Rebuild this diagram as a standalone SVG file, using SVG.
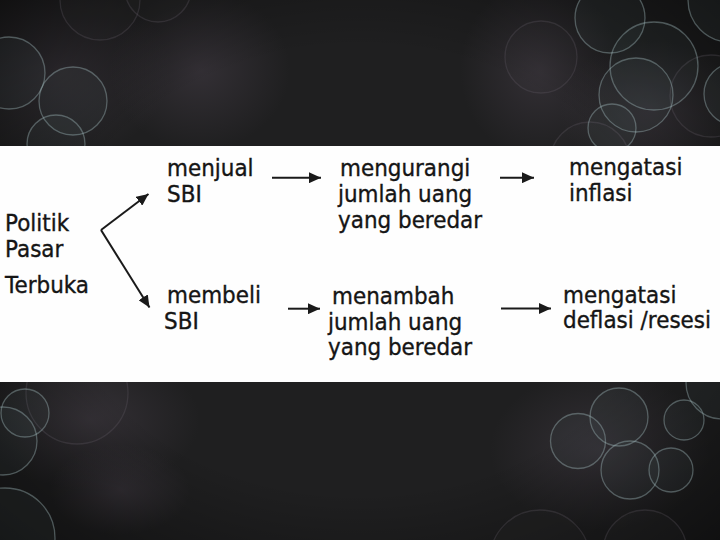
<svg xmlns="http://www.w3.org/2000/svg" width="720" height="540" viewBox="0 0 720 540">
  <defs>
    <style>
      .t { font-family: "DejaVu Sans", Verdana, sans-serif; font-size: 21.5px; fill: #151515; stroke: #151515; stroke-width: 0.35; }
      .c { stroke: #1a1a1a; stroke-width: 2; fill: none; }
      .b { fill: #8fb0b4; fill-opacity: 0.05; stroke: #a9c3c6; stroke-opacity: 0.38; stroke-width: 1.3; }
      .bf { fill: #6b6470; fill-opacity: 0.04; stroke: #6e6672; stroke-opacity: 0.25; stroke-width: 1.3; }
    </style>
    <marker id="ah" markerWidth="13" markerHeight="11" refX="12" refY="5.5" orient="auto" markerUnits="userSpaceOnUse">
      <path d="M0,0 L12,5.5 L0,11 Z" fill="#1a1a1a"/>
    </marker>
    <radialGradient id="blob" cx="0.5" cy="0.5" r="0.5">
      <stop offset="0" stop-color="#3a353c" stop-opacity="0.75"/>
      <stop offset="1" stop-color="#3a353c" stop-opacity="0"/>
    </radialGradient>
    <radialGradient id="vig" cx="0.5" cy="0.5" r="0.75">
      <stop offset="0.55" stop-color="#000" stop-opacity="0"/>
      <stop offset="1" stop-color="#000" stop-opacity="0.55"/>
    </radialGradient>
  </defs>

  <!-- background -->
  <g id="background">
    <rect x="0" y="0" width="720" height="540" fill="#1f1f20"/>
    <ellipse cx="60" cy="70" rx="110" ry="90" fill="url(#blob)"/>
    <ellipse cx="200" cy="70" rx="90" ry="80" fill="url(#blob)"/>
    <ellipse cx="540" cy="70" rx="80" ry="90" fill="url(#blob)"/>
    <ellipse cx="650" cy="110" rx="90" ry="70" fill="url(#blob)"/>
    <ellipse cx="90" cy="420" rx="110" ry="70" fill="url(#blob)"/>
    <ellipse cx="120" cy="490" rx="70" ry="45" fill="url(#blob)"/>
    <ellipse cx="600" cy="450" rx="110" ry="80" fill="url(#blob)"/>
    <rect x="0" y="0" width="720" height="540" fill="url(#vig)"/>

    <!-- faint bokeh -->
    <circle class="bf" cx="100" cy="0" r="40"/>
    <circle class="bf" cx="158" cy="-11" r="33"/>
    <circle class="bf" cx="541" cy="57" r="36"/>
    <circle class="bf" cx="711" cy="96" r="41"/>
    <circle class="bf" cx="590" cy="162" r="40"/>
    <circle class="bf" cx="77" cy="393" r="51"/>
    <circle class="bf" cx="540" cy="560" r="50"/>
    <circle class="bf" cx="645" cy="552" r="42"/>

    <!-- bright bokeh top -->
    <circle class="b" cx="9" cy="73" r="36"/>
    <circle class="b" cx="73" cy="101" r="34"/>
    <circle class="b" cx="56" cy="144" r="29"/>
    <circle class="b" cx="610" cy="18" r="35"/>
    <circle class="b" cx="654" cy="66" r="44"/>
    <circle class="b" cx="636" cy="95" r="37"/>
    <circle class="b" cx="612" cy="128" r="24"/>
    <circle class="b" cx="730" cy="0" r="42"/>
    <circle class="b" cx="735" cy="94" r="31"/>

    <!-- bright bokeh bottom -->
    <circle class="b" cx="25" cy="413" r="24"/>
    <circle class="b" cx="3" cy="441" r="34"/>
    <circle class="b" cx="5" cy="538" r="50"/>
    <circle class="b" cx="619" cy="417" r="29"/>
    <circle class="b" cx="578" cy="441" r="27.5"/>
    <circle class="b" cx="630" cy="470" r="29"/>
    <circle class="b" cx="671" cy="470" r="22"/>
    <circle class="b" cx="684" cy="420" r="20"/>
    <circle class="b" cx="722" cy="383" r="36"/>

    <!-- white band -->
    <rect x="0" y="146" width="720" height="236" fill="#fefefe"/>
  </g>

  <!-- connectors -->
  <g id="connectors">
    <line class="c" x1="101" y1="230" x2="148.5" y2="194" marker-end="url(#ah)"/>
    <line class="c" x1="101" y1="230" x2="149.5" y2="307.5" marker-end="url(#ah)"/>
    <line class="c" x1="272" y1="177.7" x2="321" y2="177.7" marker-end="url(#ah)"/>
    <line class="c" x1="500" y1="177.7" x2="534" y2="177.7" marker-end="url(#ah)"/>
    <line class="c" x1="288" y1="308.7" x2="320" y2="308.7" marker-end="url(#ah)"/>
    <line class="c" x1="501" y1="308.5" x2="551" y2="308.5" marker-end="url(#ah)"/>
  </g>

  <!-- nodes (text stretched vertically as in the reference) -->
  <g id="n-politik" transform="scale(1,1.1)">
    <text class="t" x="5" y="210">Politik</text>
    <text class="t" x="5" y="233.64">Pasar</text>
    <text class="t" x="5" y="266.36">Terbuka</text>
  </g>
  <g id="n-menjual" transform="scale(1,1.1)">
    <text class="t" x="167" y="160">menjual</text>
    <text class="t" x="167" y="183.64">SBI</text>
  </g>
  <g id="n-mengurangi" transform="scale(1,1.1)">
    <text class="t" x="340" y="160">mengurangi</text>
    <text class="t" x="338" y="183.64">jumlah uang</text>
    <text class="t" x="338" y="207.27">yang beredar</text>
  </g>
  <g id="n-inflasi" transform="scale(1,1.1)">
    <text class="t" x="569" y="159.09">mengatasi</text>
    <text class="t" x="569" y="183.18">inflasi</text>
  </g>
  <g id="n-membeli" transform="scale(1,1.1)">
    <text class="t" x="167" y="275.91">membeli</text>
    <text class="t" x="164" y="299.55">SBI</text>
  </g>
  <g id="n-menambah" transform="scale(1,1.1)">
    <text class="t" x="332" y="276.36">menambah</text>
    <text class="t" x="328" y="300">jumlah uang</text>
    <text class="t" x="328" y="322.73">yang beredar</text>
  </g>
  <g id="n-deflasi" transform="scale(1,1.1)">
    <text class="t" x="563" y="275.91">mengatasi</text>
    <text class="t" x="563" y="298.64">deflasi /resesi</text>
  </g>
</svg>
